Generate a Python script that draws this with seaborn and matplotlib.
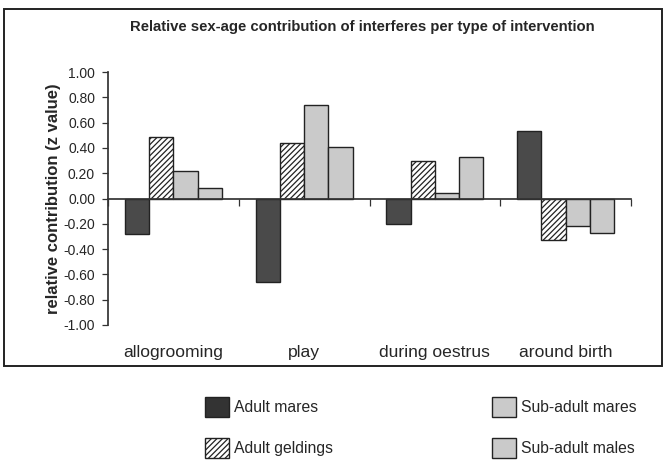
import matplotlib
matplotlib.use("Agg")
import matplotlib.pyplot as plt
from matplotlib.patches import Patch, Rectangle
import seaborn as sns
import pandas as pd

categories = ["allogrooming", "play", "during oestrus", "around birth"]
groups = ["Adult mares", "Adult geldings", "Sub-adult mares", "Sub-adult males"]
adult_mares = [-0.28, -0.66, -0.20, 0.53]
adult_geldings = [0.49, 0.44, 0.30, -0.33]
subadult_mares = [0.22, 0.74, 0.04, -0.22]
subadult_males = [0.08, 0.41, 0.33, -0.27]
yticks = [1.0, 0.8, 0.6, 0.4, 0.2, 0.0, -0.2, -0.4, -0.6, -0.8, -1.0]

series = [adult_mares, adult_geldings, subadult_mares, subadult_males]
rows = []
for g, vals in zip(groups, series):
    for c, v in zip(categories, vals):
        rows.append({"category": c, "group": g, "value": v})
df = pd.DataFrame(rows)

sns.set_theme(style="white")
plt.rcParams["font.family"] = ["Liberation Sans", "DejaVu Sans"]
plt.rcParams["hatch.linewidth"] = 0.9

colors = ["#4a4a4a", "#ffffff", "#cacaca", "#cacaca"]
hatches = [None, "//////", None, None]
edge = "#222222"

fig = plt.figure(figsize=(6.67, 4.66), dpi=100)
ax = fig.add_axes([108 / 667, 1 - 325 / 466, (631 - 108) / 667, (325 - 72) / 466])

sns.barplot(data=df, x="category", y="value", hue="group", order=categories,
            hue_order=groups, palette=colors, width=0.74, gap=0,
            edgecolor=edge, linewidth=1.0, legend=False, ax=ax)

for cont, h in zip(ax.containers, hatches):
    for bar in cont:
        if h:
            bar.set_hatch(h)

ax.set_ylim(-1.0, 1.0)
ax.set_xlim(-0.5, len(categories) - 0.5)
ax.set_yticks(yticks)
ax.set_yticklabels([f"{t:.2f}" for t in yticks], fontsize=10)
ax.tick_params(axis="y", direction="out", length=4.3, width=0.9, color="#333333", pad=5, left=True)

ax.spines["top"].set_visible(False)
ax.spines["right"].set_visible(False)
ax.spines["left"].set_color("#333333")
ax.spines["bottom"].set_color("#333333")
ax.spines["bottom"].set_position(("data", 0))
ax.set_xticks([i + 0.5 for i in range(-1, len(categories))])
ax.set_xticklabels([])
ax.tick_params(axis="x", direction="out", length=5, width=0.9, color="#333333", bottom=True)
ax.set_xlabel("")
ax.set_ylabel("relative contribution (z value)", fontsize=12, fontweight="bold", labelpad=2)

for i, c in enumerate(categories):
    ax.text(i, -0.108, c, transform=ax.get_xaxis_transform(), ha="center", va="center",
            fontsize=12.6)

fig.text(362 / 667, 1 - 27 / 466, "Relative sex-age contribution of interferes per type of intervention",
         ha="center", va="center", fontsize=10.7, fontweight="bold")

fig.patches.append(Rectangle((4 / 667, 1 - 366 / 466), 658 / 667, (366 - 9) / 466,
                             transform=fig.transFigure, fill=False, edgecolor="#222222",
                             linewidth=1.4))

handles = [Patch(facecolor=col, edgecolor=edge, hatch=h, linewidth=1.0, label=g)
           for col, h, g in zip(["#333333"] + colors[1:], hatches, groups)]
fig.legend(handles=handles, ncol=2, loc="upper left", bbox_to_anchor=(205 / 667, 1 - 397 / 466),
           frameon=False, fontsize=11.3, handlelength=1.55, handleheight=1.6,
           handletextpad=0.32, labelspacing=1.34, columnspacing=10.1, borderpad=0,
           borderaxespad=0)

fig.savefig("out.png", dpi=100)
